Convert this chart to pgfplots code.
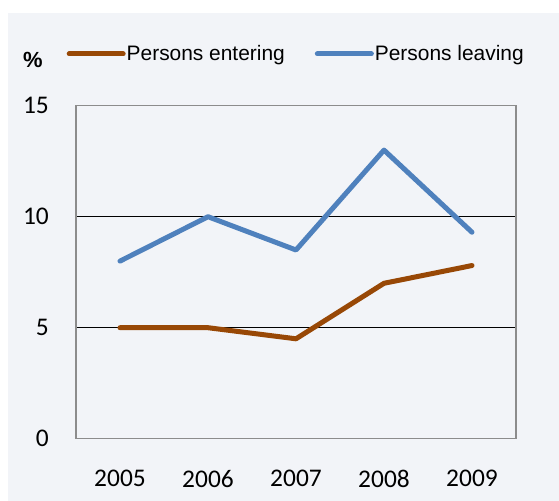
\documentclass[border=0pt]{standalone}
\usepackage{fontspec}
\setmainfont{Carlito}
\newfontfamily\arial{Liberation Sans}
\usepackage{pgfplots}
\pgfplotsset{compat=1.18}
\definecolor{bgc}{RGB}{242,244,248}
\definecolor{cbrown}{RGB}{152,72,6}
\definecolor{cblue}{RGB}{79,129,189}
\definecolor{framec}{RGB}{140,140,140}
\begin{document}
\begin{tikzpicture}
\path[fill=white] (0bp,0bp) rectangle (559bp,501bp);
\fill[bgc] (7.5bp,0bp) rectangle (559bp,487.5bp);
\begin{axis}[
  at={(76bp,62.3bp)}, anchor=south west,
  scale only axis, width=440bp, height=333bp,
  xmin=-0.5, xmax=4.5, ymin=0, ymax=15,
  xtick={0,1,2,3,4}, xticklabels={2005,2006,2007,2008,2009},
  ytick={5,10}, extra y ticks={0,15},
  extra y tick style={grid=none},
  major tick length=0pt,
  ymajorgrids, grid style={black, line width=0.9bp},
  axis line style={framec, line width=1.1bp},
  ticklabel style={font=\fontsize{25.5}{25.5}\selectfont, inner sep=0pt},
  /pgf/number format/assume math mode=true,
  yticklabel style={anchor=east, xshift=-27bp},
  xticklabel style={anchor=north, yshift=-31.5bp},
  legend columns=2,
  legend style={draw=none, fill=none, font=\arial\fontsize{21}{21}\selectfont,
    at={(0,1)}, anchor=west, xshift=-9.5bp, yshift=51.7bp, inner sep=0pt,
    nodes={inner xsep=1bp},
    /tikz/every even column/.append style={column sep=29bp}},
  legend image code/.code={\draw[#1] (0bp,0bp) -- (54bp,0bp);},
]
\addplot[cbrown, line width=5bp, line cap=round, line join=round]
  coordinates {(0,5) (1,5) (2,4.5) (3,7) (4,7.8)};
\addlegendentry{Persons entering}
\addplot[cblue, line width=5bp, line cap=round, line join=round]
  coordinates {(0,8) (1,10) (2,8.5) (3,13) (4,9.3)};
\addlegendentry{Persons leaving}
\end{axis}
\node[font=\arial\bfseries\fontsize{22}{22}\selectfont] at (32.8bp,441.5bp) {\%};
\end{tikzpicture}
\end{document}
